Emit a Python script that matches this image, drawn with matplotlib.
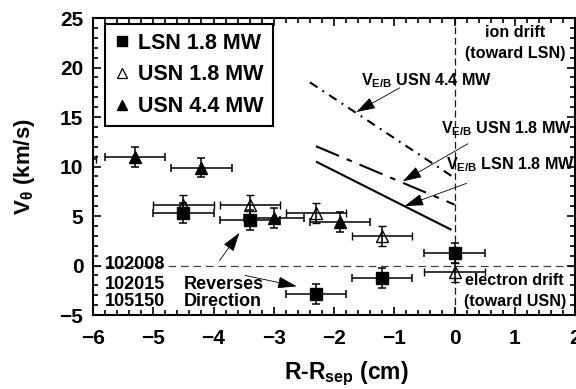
import matplotlib
matplotlib.use('Agg')
import matplotlib.pyplot as plt
from matplotlib import font_manager
from matplotlib.lines import Line2D
from matplotlib.ticker import MultipleLocator

names = {f.name for f in font_manager.fontManager.ttflist}
BASE = 'Liberation Sans'
HAS_NARROW = 'Liberation Sans Narrow' in names
NARROW_FAM = ['Liberation Sans Narrow', BASE] if HAS_NARROW else [BASE, 'DejaVu Sans']
NARROW_SIZE = 14 if HAS_NARROW else 11.6

plt.rcParams['font.family'] = [BASE, 'DejaVu Sans']
plt.rcParams['font.weight'] = 'bold'
plt.rcParams['mathtext.default'] = 'regular'
plt.rcParams['lines.scale_dashes'] = False

# ---- data ----
lsn18_x = [-4.5, -3.4, -2.3, -1.2, 0.0]
lsn18_y = [5.3, 4.6, -2.9, -1.3, 1.3]
usn18_x = [-6.45, -4.5, -3.4, -2.3, -1.2, 0.0]
usn18_y = [10.8, 6.1, 6.1, 5.3, 3.0, -0.7]
usn44_x = [-5.3, -4.2, -3.0, -1.9]
usn44_y = [11.0, 9.9, 4.8, 4.4]
x_err = 0.5
y_err = 1.0

veb_lsn18_x = [-2.3, -0.05]
veb_lsn18_y = [10.5, 3.6]
veb_usn18_x = [-2.3, 0.0]
veb_usn18_y = [12.05, 6.15]
veb_usn44_x = [-2.4, 0.0]
veb_usn44_y = [18.5, 8.85]

series_labels = ['LSN 1.8 MW', 'USN 1.8 MW', 'USN 4.4 MW']
shot_numbers = ['102008', '102015', '105150']

fig = plt.figure(figsize=(5.76, 3.89), dpi=100)
ax = fig.add_axes([0.1615, 0.1902, 0.8368, 0.7635])
ax.set_xlim(-6, 2)
ax.set_ylim(-5, 25)

# reference dashed lines
ax.axhline(0, color='0.25', lw=0.9, ls=(0, (5.5, 3.5)), zorder=1)
ax.axvline(0, color='0.1', lw=0.9, ls=(0, (5, 2.5)), zorder=1)

ekw = dict(ecolor='black', elinewidth=1.1, capsize=2.6, capthick=1.1, ls='none')
ax.errorbar(usn18_x, usn18_y, xerr=x_err, yerr=y_err, marker='^', ms=8,
            mfc='none', mec='black', mew=1.0, zorder=3, **ekw)
ax.errorbar(usn44_x, usn44_y, xerr=x_err, yerr=y_err, marker='^', ms=8,
            mfc='black', mec='black', zorder=4, **ekw)
ax.errorbar(lsn18_x, lsn18_y, xerr=x_err, yerr=y_err, marker='s', ms=8,
            mfc='black', mec='black', zorder=5, **ekw)

# E/B theory lines
ax.plot(veb_lsn18_x, veb_lsn18_y, color='black', lw=1.5, solid_capstyle='butt')
ax.plot(veb_usn18_x, veb_usn18_y, color='black', lw=1.5,
        ls=(0, (18, 6, 4, 6)), dash_capstyle='butt')
ax.plot(veb_usn44_x, veb_usn44_y, color='black', lw=1.5,
        ls=(0, (6.5, 4.3, 1.4, 4.3)), dash_capstyle='butt')

# annotations for the lines
tkw = dict(family=NARROW_FAM, size=NARROW_SIZE, weight='bold', ha='left', va='baseline')
ax.text(-1.55, 18.2, r'V$_{E/B}$ USN 4.4 MW', **tkw)
ax.text(-0.23, 13.4, r'V$_{E/B}$ USN 1.8 MW', **tkw)
ax.text(-0.14, 9.7, r'V$_{E/B}$ LSN 1.8 MW', **tkw)

akw = dict(arrowstyle='-|>,head_length=0.7,head_width=0.22', color='black',
           lw=0.6, shrinkA=0, shrinkB=0, mutation_scale=17)
ax.annotate('', xy=(-1.63, 15.5), xytext=(-0.91, 17.95), arrowprops=akw)
ax.annotate('', xy=(-0.86, 8.5), xytext=(0.22, 12.3), arrowprops=akw)
ax.annotate('', xy=(-0.83, 6.0), xytext=(0.2, 8.3), arrowprops=akw)
ax.annotate('', xy=(-3.57, 3.3), xytext=(-3.9, 0.5), arrowprops=akw)
ax.annotate('', xy=(-2.62, -2.1), xytext=(-3.48, -1.0), arrowprops=akw)

# drift direction texts
dkw = dict(family=NARROW_FAM, size=NARROW_SIZE, weight='bold', ha='center', va='baseline')
ax.text(1.0, 23.1, 'ion drift', **dkw)
ax.text(1.0, 21.0, '(toward LSN)', **dkw)
ax.text(1.0, -2.0, 'electron drift', **dkw)
ax.text(1.0, -4.1, '(toward USN)', **dkw)

# shot numbers and "Reverses Direction"
skw = dict(size=13, weight='bold', ha='left', va='baseline')
for lab, yy in zip(shot_numbers, [-0.4, -2.42, -4.1]):
    ax.text(-5.8, yy, lab, **skw)
ax.text(-4.5, -2.42, 'Reverses', **skw)
ax.text(-4.5, -4.1, 'Direction', **skw)

# axes styling
for sp in ax.spines.values():
    sp.set_linewidth(1.5)
ax.xaxis.set_major_locator(MultipleLocator(1))
ax.xaxis.set_minor_locator(MultipleLocator(0.2))
ax.yaxis.set_major_locator(MultipleLocator(5))
ax.yaxis.set_minor_locator(MultipleLocator(1))
ax.tick_params(which='both', direction='in', top=True, right=True, width=1.2)
ax.tick_params(which='major', length=6)
ax.tick_params(which='minor', length=3.5)
ax.tick_params(axis='x', which='major', pad=10, labelsize=15)
ax.tick_params(axis='y', which='major', pad=7, labelsize=15)
for t in ax.get_xticklabels() + ax.get_yticklabels():
    t.set_fontweight('bold')

ax.set_xlabel(r'R-R$_{sep}$ (cm)', fontsize=16.5, fontweight='bold')
ax.xaxis.set_label_coords(0.525, -0.15)
ax.set_ylabel(r'V$_{\theta}$ (km/s)', fontsize=16, fontweight='bold')
ax.yaxis.set_label_coords(-0.116, 0.5)

handles = [
    Line2D([], [], ls='none', marker='s', ms=6.5, mfc='black', mec='black'),
    Line2D([], [], ls='none', marker='^', ms=6.5, mfc='none', mec='black', mew=0.9),
    Line2D([], [], ls='none', marker='^', ms=6.5, mfc='black', mec='black'),
]
leg = ax.legend(handles, series_labels, loc='upper left', bbox_to_anchor=(0.025, 0.98),
                borderaxespad=0, fancybox=False, framealpha=1, edgecolor='black',
                prop={'family': BASE, 'weight': 'bold', 'size': 15.5},
                handlelength=0.8, handletextpad=0.35, labelspacing=0.5,
                borderpad=0.4)
leg.get_frame().set_linewidth(1.5)

fig.savefig('out.png', dpi=100)
